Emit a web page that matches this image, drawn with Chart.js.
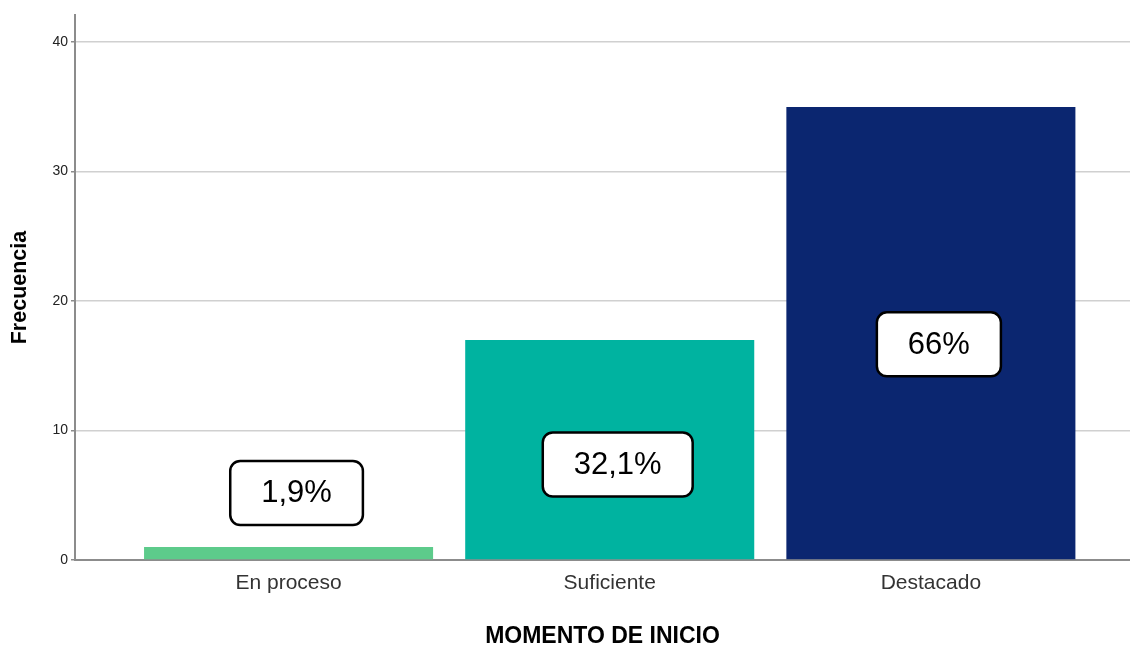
<!DOCTYPE html>
<html lang="es">
<head>
<meta charset="utf-8">
<title>Momento de inicio</title>
<script src="https://cdn.jsdelivr.net/npm/chart.js@4.4.1/dist/chart.umd.min.js"></script>
<style>
    html, body { margin: 0; padding: 0; background: #ffffff; }
    #wrap { width: 1130px; height: 645px; position: relative; }
</style>
</head>
<body>
<div id="wrap"><canvas id="momentoChart"></canvas></div>
<script>
// Chart data
const categories = ['En proceso', 'Suficiente', 'Destacado'];
const frequencies = [1, 17, 35];
const percentLabels = ['1,9%', '32,1%', '66%'];
const yTicks = [0, 10, 20, 30, 40];
const barColors = ['#5dcb8b', '#00b3a0', '#0b2670'];

// Rounded label boxes drawn over/above each bar
const labelBoxes = {
    id: 'labelBoxes',
    afterDatasetsDraw(chart, args, opts) {
        const ctx = chart.ctx;
        const yScale = chart.scales.y;
        const meta = chart.getDatasetMeta(0);
        ctx.save();
        ctx.font = opts.font;
        ctx.textAlign = 'center';
        ctx.textBaseline = 'middle';
        meta.data.forEach((bar, i) => {
            const text = percentLabels[i];
            const cx = bar.x + opts.shiftX;
            const cy = yScale.getPixelForValue(opts.centers[i]);
            const w = ctx.measureText(text).width + opts.padX * 2;
            const h = opts.height;
            ctx.beginPath();
            ctx.roundRect(cx - w / 2, cy - h / 2, w, h, opts.radius);
            ctx.fillStyle = '#ffffff';
            ctx.fill();
            ctx.lineWidth = 2.5;
            ctx.strokeStyle = '#000000';
            ctx.stroke();
            ctx.fillStyle = '#000000';
            ctx.fillText(text, cx, cy + 1);
        });
        ctx.restore();
    }
};

const ctx = document.getElementById('momentoChart');

new Chart(ctx, {
    type: 'bar',
    data: {
        datasets: [{
            data: frequencies.map((v, i) => ({ x: i, y: v })),
            backgroundColor: barColors,
            borderWidth: 0,
            categoryPercentage: 1,
            barPercentage: 0.9
        }]
    },
    options: {
        responsive: true,
        maintainAspectRatio: false,
        animation: false,
        layout: { padding: { top: 15, right: 0, bottom: 0, left: 0 } },
        plugins: {
            legend: { display: false },
            tooltip: { enabled: false },
            labelBoxes: {
                font: '31px "Liberation Sans", Arial, sans-serif',
                centers: [5.18, 7.38, 16.66],
                shiftX: 8,
                padX: 31,
                height: 64,
                radius: 10
            }
        },
        scales: {
            x: {
                type: 'linear',
                offset: false,
                min: -0.665,
                max: 2.62,
                afterBuildTicks: (scale) => {
                    scale.ticks = categories.map((c, i) => ({ value: i }));
                },
                afterFit: (scale) => { scale.height = 85; },
                grid: { display: false, drawTicks: false },
                border: { display: true, color: '#8c8c8c', width: 2 },
                ticks: {
                    padding: 11,
                    color: '#333333',
                    font: { family: '"Liberation Sans", Arial, sans-serif', size: 21 },
                    callback: (v) => categories[v]
                },
                title: {
                    display: true,
                    text: 'MOMENTO DE INICIO',
                    color: '#000000',
                    font: { family: '"Liberation Sans", Arial, sans-serif', size: 23, weight: 'bold', lineHeight: 1 },
                    padding: { top: 0, bottom: -3 }
                }
            },
            y: {
                min: 0,
                max: 42.1,
                afterBuildTicks: (scale) => {
                    scale.ticks = yTicks.map(v => ({ value: v }));
                },
                afterFit: (scale) => { scale.width = 75; },
                grid: { color: '#d0d0d0', lineWidth: 1.5, tickLength: 4, tickColor: '#8c8c8c' },
                border: { display: true, color: '#8c8c8c', width: 2 },
                ticks: {
                    padding: 3,
                    color: '#222222',
                    font: { family: '"Liberation Sans", Arial, sans-serif', size: 14 }
                },
                title: {
                    display: true,
                    text: 'Frecuencia',
                    color: '#000000',
                    font: { family: '"Liberation Sans", Arial, sans-serif', size: 21.5, weight: 'bold', lineHeight: 1 },
                    padding: { top: 9, bottom: 0 }
                }
            }
        }
    },
    plugins: [labelBoxes]
});
</script>
</body>
</html>
